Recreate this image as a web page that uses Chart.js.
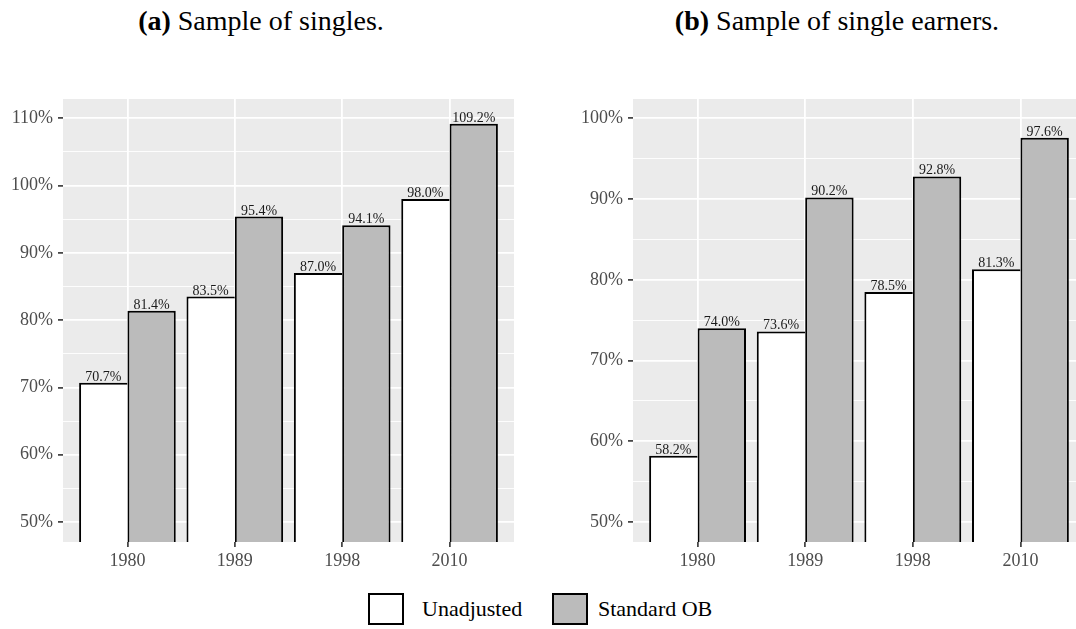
<!DOCTYPE html>
<html>
<head>
<meta charset="utf-8">
<script src="https://cdn.jsdelivr.net/npm/chart.js@4.4.1/dist/chart.umd.min.js"></script>
<style>
  body { margin: 0; background: #fff; }
  #page { position: relative; width: 1076px; height: 629px; overflow: hidden; font-family: "Liberation Serif", serif; color: #000; }
  .title { position: absolute; top: 7px; font-size: 28px; line-height: 1; white-space: nowrap; transform: translateX(-50%); }
  canvas { position: absolute; top: 79px; }
  .key { position: absolute; top: 593px; width: 36px; height: 32px; box-sizing: border-box; border: 2px solid #000; }
  .key-label { position: absolute; top: 593px; height: 32px; line-height: 32px; font-size: 22px; white-space: nowrap; }
</style>
</head>
<body>
<div id="page">
  <div class="title" style="left:261px"><b>(a)</b> Sample of singles.</div>
  <div class="title" style="left:837px"><b>(b)</b> Sample of single earners.</div>

  <canvas id="singles" width="540" height="500" style="left:0"></canvas>
  <canvas id="earners" width="515" height="500" style="left:570px"></canvas>

  <div class="key" style="left:368px; background:#fff"></div>
  <div class="key-label" style="left:422px">Unadjusted</div>
  <div class="key" style="left:552px; background:#bbbbbb"></div>
  <div class="key-label" style="left:598px">Standard OB</div>
</div>

<script>
const years = ['1980', '1989', '1998', '2010'];

// (a) singles
const singlesUnadj = [70.7, 83.5, 87.0, 98.0];
const singlesOB = [81.4, 95.4, 94.1, 109.2];
const singlesTicks = [50, 60, 70, 80, 90, 100, 110];
const singlesMinor = [55, 65, 75, 85, 95, 105];

// (b) single earners
const earnersUnadj = [58.2, 73.6, 78.5, 81.3];
const earnersOB = [74.0, 90.2, 92.8, 97.6];
const earnersTicks = [50, 60, 70, 80, 90, 100];
const earnersMinor = [55, 65, 75, 85, 95];

Chart.defaults.font.family = '"Liberation Serif", serif';
Chart.defaults.animation = false;

// grey panel behind the grid
const panelBg = {
  id: 'panelBg',
  beforeDraw(chart) {
    const { ctx, chartArea: a } = chart;
    ctx.save();
    ctx.fillStyle = '#ebebeb';
    ctx.fillRect(a.left, a.top, a.right - a.left, a.bottom - a.top);
    ctx.restore();
  }
};

// value printed on top of each bar
const barLabels = {
  id: 'barLabels',
  afterDatasetsDraw(chart) {
    const ctx = chart.ctx;
    ctx.save();
    ctx.font = '14px "Liberation Serif", serif';
    ctx.fillStyle = '#1a1a1a';
    ctx.textAlign = 'center';
    ctx.textBaseline = 'alphabetic';
    chart.data.datasets.forEach((ds, i) => {
      chart.getDatasetMeta(i).data.forEach((bar, j) => {
        ctx.fillText(ds.data[j].y.toFixed(1) + '%', bar.x, bar.y - 2);
      });
    });
    ctx.restore();
  }
};

function makePanel(id, unadj, ob, major, minor, yMin, yMax, padRight) {
  const points = vals => vals.map((v, i) => ({ x: i + 1, y: v }));
  const allTicks = major.concat(minor).sort((a, b) => a - b);
  const isMajor = c => c.tick && major.includes(c.tick.value);

  return new Chart(document.getElementById(id), {
    type: 'bar',
    data: {
      datasets: [
        {
          label: 'Unadjusted',
          data: points(unadj),
          backgroundColor: '#ffffff',
          borderColor: '#000000',
          borderWidth: { top: 2, left: 2, right: 0, bottom: 0 },
          clip: 0
        },
        {
          label: 'Standard OB',
          data: points(ob),
          backgroundColor: '#bbbbbb',
          borderColor: '#000000',
          borderWidth: 2,
          clip: 0
        }
      ]
    },
    options: {
      responsive: false,
      categoryPercentage: 0.9,
      barPercentage: 1.0,
      layout: { padding: { left: 0, top: 20, right: padRight, bottom: 0 } },
      plugins: {
        legend: { display: false },
        tooltip: { enabled: false }
      },
      scales: {
        x: {
          type: 'linear',
          min: 0.4,
          max: 4.6,
          bounds: 'data',
          offset: false,
          afterBuildTicks: s => { s.ticks = years.map((_, i) => ({ value: i + 1 })); },
          afterFit: s => { s.height = 37; },
          ticks: {
            callback: v => years[Math.round(v) - 1],
            color: '#4d4d4d',
            font: { size: 18 },
            padding: 3,
            autoSkip: false,
            maxRotation: 0
          },
          grid: { offset: false, color: '#ffffff', lineWidth: 1.8, tickColor: '#333333', tickLength: 5, tickWidth: 1.6 },
          border: { display: false }
        },
        y: {
          min: yMin,
          max: yMax,
          bounds: 'data',
          afterBuildTicks: s => { s.ticks = allTicks.map(v => ({ value: v })); },
          afterFit: s => { s.width = 63; },
          ticks: {
            callback: v => major.includes(v) ? v + '%' : '',
            color: '#4d4d4d',
            font: { size: 18 },
            padding: 5,
            autoSkip: false
          },
          grid: {
            color: '#ffffff',
            lineWidth: c => isMajor(c) ? 1.8 : 0.9,
            tickColor: c => isMajor(c) ? '#333333' : 'rgba(0,0,0,0)',
            tickLength: 5,
            tickWidth: 1.6
          },
          border: { display: false }
        }
      }
    },
    plugins: [panelBg, barLabels]
  });
}

makePanel('singles', singlesUnadj, singlesOB, singlesTicks, singlesMinor, 47.03, 112.87, 26);
makePanel('earners', earnersUnadj, earnersOB, earnersTicks, earnersMinor, 47.52, 102.39, 0);
</script>
</body>
</html>
